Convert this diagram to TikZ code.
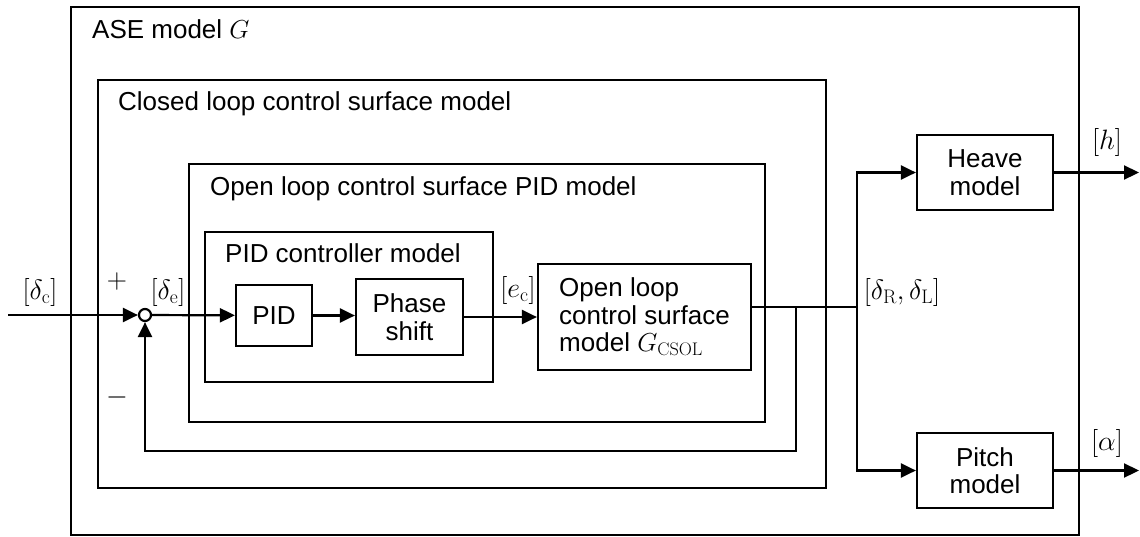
\documentclass[tikz,border=0pt]{standalone}
\usepackage{fix-cm}
\usepackage[no-math]{fontspec}
\setmainfont{Liberation Sans}
\usetikzlibrary{arrows.meta,calc}
\begin{document}
\begin{tikzpicture}[x=1pt,y=-1pt,
  every node/.style={font=\fontsize{26}{27.5}\selectfont},
  mth/.style={font=\fontsize{28}{30}\selectfont},
  cont/.style={draw, line width=2.2pt, inner sep=0pt},
  blk/.style={draw, line width=2.2pt, inner sep=0pt, align=center},
  lbl/.style={inner sep=0pt},
  wire/.style={line width=2.2pt},
  sig/.style={line width=2.2pt, -{Triangle[length=15pt,width=14pt]}}]
\useasboundingbox (0,0) rectangle (1140,536);
% containers
\node[cont, minimum width=1008pt, minimum height=528pt] (ase) at (575,271) {};
\node[cont, minimum width=728pt, minimum height=408pt] (cl) at (462,284) {};
\node[cont, minimum width=576pt, minimum height=258pt] (op) at (477,293) {};
\node[cont, minimum width=288pt, minimum height=150pt] (pc) at (349,307) {};
% titles
\node[lbl, anchor=base west] (aset) at (92,38) {ASE model $G$};
\node[lbl, anchor=base west] (clt) at (118,110.5) {Closed loop control surface model};
\node[lbl, anchor=base west] (opt) at (210,195) {Open loop control surface PID model};
\node[lbl, anchor=base west] (pct) at (225,262) {PID controller model};
% blocks
\node[blk, minimum width=76pt, minimum height=61pt] (pid) at (274,315.5) {PID};
\node[blk, minimum width=107pt, minimum height=76pt] (ph) at (409.5,317) {Phase\\shift};
\node[blk, minimum width=213pt, minimum height=106pt, align=left] (olcs) at (644.5,317) {Open loop\\control surface\\model $G_{\mathrm{CSOL}}$};
\node[blk, minimum width=136pt, minimum height=75pt] (heave) at (985,172.5) {Heave\\model};
\node[blk, minimum width=136pt, minimum height=75pt] (pitch) at (985,470.5) {Pitch\\model};
\node[draw, circle, line width=2.2pt, minimum size=12pt, inner sep=0pt] (sum) at (145,315) {};
% coordinates
\coordinate (in) at (8,315);
\coordinate (j) at (857,307);
\coordinate (fb) at (796,307);
\coordinate (fbc) at (796,451);
\coordinate (outx) at (1139,0);
% connectors
\draw[sig] (in) -- (sum);
\draw[sig] (sum) -- (pid);
\draw[sig] (pid.east) -- (ph.west |- pid.east);
\draw[sig] (ph.east |- olcs.west) -- (olcs.west);
\draw[wire] (olcs.east |- j) -- (j);
\draw[sig] (fb) -- (fbc) -| (sum.south);
\draw[sig] (j) |- (heave.west);
\draw[sig] (j) |- (pitch.west);
\draw[sig] (heave.east) -- (heave.east -| outx);
\draw[sig] (pitch.east) -- (pitch.east -| outx);
% labels
\node[lbl, mth] (ldc) at (40,292) {$[\delta_{\mathrm{c}}]$};
\node[lbl, mth] (lde) at (168,292) {$[\delta_{\mathrm{e}}]$};
\node[lbl, mth] (lplus) at (117,281) {$+$};
\node[lbl, mth] (lminus) at (117,397) {$-$};
\node[lbl, mth] (lec) at (518,290) {$[e_{\mathrm{c}}]$};
\node[lbl, mth] (ldrl) at (902,292) {$[\delta_{\mathrm{R}},\delta_{\mathrm{L}}]$};
\node[lbl, mth] (lh) at (1107,142) {$[h]$};
\node[lbl, mth] (la) at (1107,443) {$[\alpha]$};
\end{tikzpicture}
\end{document}
